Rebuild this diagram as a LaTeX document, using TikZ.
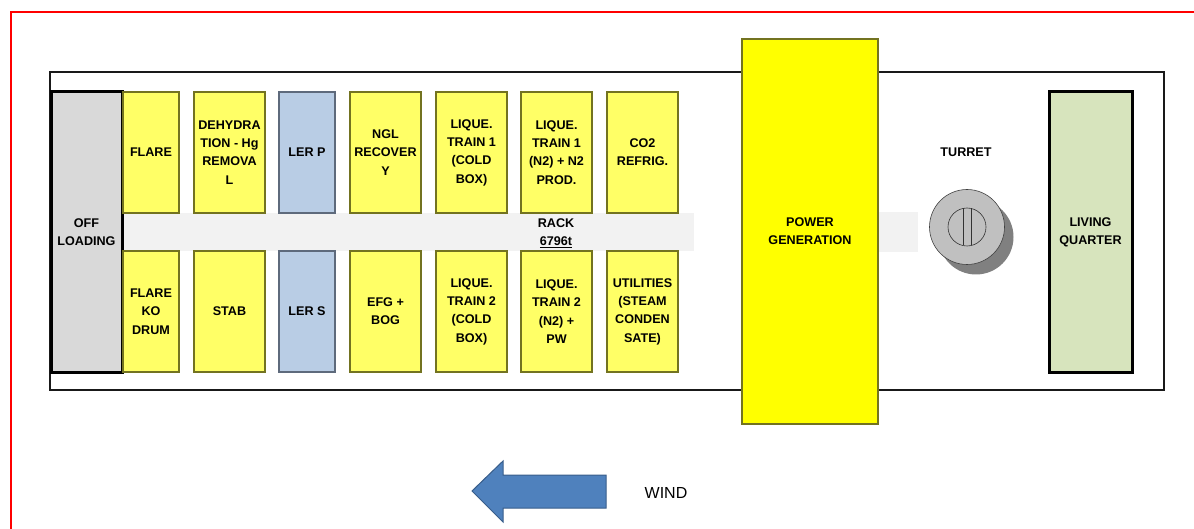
\documentclass[tikz,border=0pt]{standalone}
\usepackage{fontspec}
\setmainfont{Liberation Sans}
\definecolor{ylw}{HTML}{FFFF66}
\definecolor{ybright}{HTML}{FFFF00}
\definecolor{yedge}{HTML}{737320}
\definecolor{ler}{HTML}{B9CDE5}
\definecolor{leredge}{HTML}{5E6A7C}
\definecolor{offl}{HTML}{D9D9D9}
\definecolor{living}{HTML}{D7E4BD}
\definecolor{rack}{HTML}{F2F2F2}
\definecolor{turretc}{HTML}{C0C0C0}
\definecolor{shadowc}{HTML}{808080}
\definecolor{windfill}{HTML}{4F81BD}
\definecolor{windedge}{HTML}{385D8A}
\definecolor{redline}{HTML}{FF0000}
\tikzset{
  lbl/.style={font=\fontsize{12.6}{18.3}\selectfont\bfseries, align=center, text=black},
  ybox/.style={lbl, rectangle, fill=ylw, draw=black!85, double=yedge, double distance=1.2pt, line width=0.6pt, inner sep=0pt},
  lbox/.style={lbl, rectangle, fill=ler, draw=black!85, double=leredge, double distance=1.2pt, line width=0.6pt, inner sep=0pt},
  pbox/.style={lbl, rectangle, fill=ybright, draw=black!80, double=yedge, double distance=1.4pt, line width=0.6pt, inner sep=0pt},
  heavybox/.style={lbl, rectangle, draw=black, line width=3pt, inner sep=0pt},
  colA/.style={minimum width=56pt, minimum height=121pt},
  colB/.style={minimum width=71pt, minimum height=121pt}
}
\begin{document}
\begin{tikzpicture}[x=1pt,y=-1pt]
\useasboundingbox (0,0) rectangle (1194,529);
% red frame (top and left)
\draw[redline, line width=2pt] (11,529) -- (11,12) -- (1194,12);
% hull
\node[draw=black!90, line width=1.6pt, fill=white, minimum width=1114pt, minimum height=318pt, inner sep=0pt] (hull) at (607,231) {};
% rack bands
\fill[rack] (123,213) rectangle (694,251);
\fill[rack] (878,212) rectangle (918,252);
\node[lbl] (rack) at (556,233) {RACK\\\underline{6796t}};
% off loading
\node[heavybox, fill=offl, minimum width=71pt, minimum height=280pt] (off) at (86.5,232) {OFF\\LOADING};
% top row
\node[ybox, colA] (flare) at (151,152.5) {FLARE};
\node[ybox, colB] (dehyd) at (229.5,152.5) {DEHYDRA\\TION - Hg\\REMOVA\\L};
\node[lbox, colA] (lerp) at (307,152.5) {LER P};
\node[ybox, colB] (ngl) at (385.5,152.5) {NGL\\RECOVER\\Y};
\node[ybox, colB] (lt1) at (471.5,152.5) {LIQUE.\\TRAIN 1\\(COLD\\BOX)};
\node[ybox, colB] (lt1n) at (556.5,152.5) {LIQUE.\\TRAIN 1\\(N2) + N2\\PROD.};
\node[ybox, colB] (co2) at (642.5,152.5) {CO2\\REFRIG.};
% bottom row
\node[ybox, colA] (flko) at (151,311.5) {FLARE\\KO\\DRUM};
\node[ybox, colB] (stab) at (229.5,311.5) {STAB};
\node[lbox, colA] (lers) at (307,311.5) {LER S};
\node[ybox, colB] (efg) at (385.5,311.5) {EFG +\\BOG};
\node[ybox, colB] (lt2) at (471.5,311.5) {LIQUE.\\TRAIN 2\\(COLD\\BOX)};
\node[ybox, colB] (lt2n) at (556.5,311.5) {LIQUE.\\TRAIN 2\\(N2) +\\PW};
\node[ybox, colB] (util) at (642.5,311.5) {UTILITIES\\(STEAM\\CONDEN\\SATE)};
% power generation
\node[pbox, minimum width=136pt, minimum height=385pt] (power) at (810,231.5) {POWER\\GENERATION};
% turret
\node[lbl] (turretlbl) at (966,152) {TURRET};
\node[circle, fill=shadowc, minimum size=75pt, inner sep=0pt] (tshadow) at (976,237) {};
\node[circle, fill=turretc, draw=black!75, line width=0.6pt, minimum size=75pt, inner sep=0pt] (turret) at (967,227) {};
\node[circle, draw=black!80, line width=0.6pt, minimum size=38pt, inner sep=0pt] (tin) at (967,227) {};
\draw[black!80, line width=0.6pt] ([xshift=-4pt]tin.center) ++(0,-18.5) -- ++(0,37);
\draw[black!80, line width=0.6pt] ([xshift=4pt]tin.center) ++(0,-18.5) -- ++(0,37);
% living quarter
\node[heavybox, fill=living, minimum width=83pt, minimum height=280pt] (living) at (1090.5,232) {LIVING\\QUARTER};
% wind arrow
\draw[fill=windfill, draw=windedge, line width=1pt, line join=miter]
  (472,491) -- (503,461) -- (503,475) -- (606,475) -- (606,508) -- (503,508) -- (503,522) -- cycle;
\node[font=\fontsize{16}{19}\selectfont, text=black] (wind) at (666,493) {WIND};
\end{tikzpicture}
\end{document}
